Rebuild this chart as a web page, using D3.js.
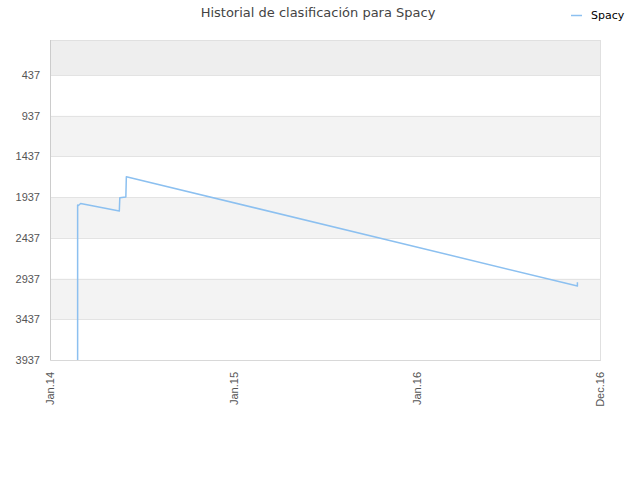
<!DOCTYPE html>
<html>
<head>
<meta charset="utf-8">
<script src="https://cdn.jsdelivr.net/npm/d3@7/dist/d3.min.js"></script>
<style>
  body { margin: 0; background: #fff; }
  svg { font-family: "DejaVu Sans", sans-serif; }
</style>
</head>
<body>
<svg id="chart" width="640" height="480"></svg>
<script>
  // Ranking history (lower rank = higher on the chart)
  var dates = [
    '2014-02-25', '2014-02-25', '2014-02-25', '2014-02-25', '2014-02-25',
    '2014-02-26', '2014-03-03', '2014-05-19', '2014-05-20', '2014-06-01',
    '2014-06-02', '2016-11-16', '2016-11-16'
  ];
  var ranks = [
    3937, 3400, 2900, 2400, 2033,
    2042, 2015, 2107, 1944, 1935,
    1686, 3028, 2982
  ];
  var seriesName = 'Spacy';
  var yTicks = [437, 937, 1437, 1937, 2437, 2937, 3437, 3937];
  var xTickDates = ['2014-01-01', '2015-01-01', '2016-01-01', '2016-12-31'];
  var xTickLabels = ['Jan.14', 'Jan.15', 'Jan.16', 'Dec.16'];
  // shaded bands [from, to] in rank units
  var bands = [[7, 437], [937, 1437], [1937, 2437], [2937, 3437]];

  var svg = d3.select('#chart'),
      margin = {top: 40, right: 40, bottom: 120, left: 50},
      width = 640 - margin.left - margin.right,
      height = 480 - margin.top - margin.bottom,
      parse = d3.timeParse('%Y-%m-%d');

  var data = dates.map(function(d, i) {
    return {date: parse(d), rank: ranks[i]};
  });

  var x = d3.scaleTime()
    .domain([parse(xTickDates[0]), parse(xTickDates[xTickDates.length - 1])])
    .range([0, width]);
  var y = d3.scaleLinear()
    .domain([7, 3937])
    .range([0, height]);

  var g = svg.append('g')
    .attr('transform', 'translate(' + margin.left + ',' + margin.top + ')');

  // Bands
  g.selectAll('rect.band')
    .data(bands)
    .enter().append('rect')
    .attr('class', 'band')
    .attr('x', 0)
    .attr('width', width)
    .attr('y', function(d) { return y(d[0]); })
    .attr('height', function(d) { return y(d[1]) - y(d[0]); })
    .attr('fill', function(d, i) { return i === 0 ? '#eeeeee' : '#f3f3f3'; });

  // Grid lines
  g.selectAll('line.grid')
    .data(yTicks)
    .enter().append('line')
    .attr('class', 'grid')
    .attr('x1', 0)
    .attr('x2', width)
    .attr('y1', function(d) { return Math.round(y(d)) + 0.5; })
    .attr('y2', function(d) { return Math.round(y(d)) + 0.5; })
    .style('stroke', '#e3e3e3');

  // Plot border
  g.append('rect')
    .attr('x', 0.5)
    .attr('y', 0.5)
    .attr('width', width)
    .attr('height', height)
    .attr('fill', 'none')
    .style('stroke', '#e0e0e0');
  g.append('line')
    .attr('x1', 0.5).attr('x2', 0.5)
    .attr('y1', 0).attr('y2', height)
    .style('stroke', '#cccccc');

  // Y axis
  var yAxis = d3.axisLeft(y)
    .tickValues(yTicks)
    .tickSize(0)
    .tickPadding(10)
    .tickFormat(d3.format('d'));
  var yAxisG = g.append('g').call(yAxis);
  yAxisG.select('.domain').remove();
  yAxisG.selectAll('text')
    .style('font-size', '11px')
    .style('fill', '#555');

  // X axis
  var xAxis = d3.axisBottom(x)
    .tickValues(xTickDates.map(parse))
    .tickSize(0)
    .tickFormat(function(d, i) { return xTickLabels[i]; });
  var xAxisG = g.append('g')
    .attr('transform', 'translate(0,' + height + ')')
    .call(xAxis);
  xAxisG.select('.domain').style('stroke', '#d8d8d8');
  xAxisG.selectAll('text')
    .style('font-size', '11px')
    .style('fill', '#555')
    .style('text-anchor', 'end')
    .attr('dx', '-12')
    .attr('dy', '0.35em')
    .attr('y', 0)
    .attr('transform', 'rotate(-90)');

  // Line
  var line = d3.line()
    .x(function(d) { return x(d.date); })
    .y(function(d) { return y(d.rank); });
  g.append('path')
    .datum(data)
    .attr('d', line)
    .attr('fill', 'none')
    .style('stroke', '#8cc0f0')
    .style('stroke-width', 1.5)
    .style('stroke-linejoin', 'round');

  // Title
  svg.append('text')
    .attr('x', 318)
    .attr('y', 17)
    .attr('text-anchor', 'middle')
    .style('font-size', '13px')
    .style('fill', '#444')
    .text('Historial de clasificación para Spacy');

  // Legend
  svg.append('line')
    .attr('x1', 571).attr('x2', 582)
    .attr('y1', 15.5).attr('y2', 15.5)
    .style('stroke', '#8cc0f0')
    .style('stroke-width', 1.5);
  svg.append('text')
    .attr('x', 591)
    .attr('y', 19)
    .style('font-size', '11px')
    .style('fill', '#000')
    .text(seriesName);
</script>
</body>
</html>
